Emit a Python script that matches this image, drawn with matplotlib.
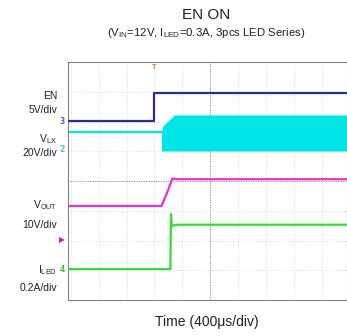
import matplotlib
matplotlib.use("Agg")
import matplotlib.pyplot as plt

plt.rcParams["font.family"] = ["Liberation Sans", "DejaVu Sans"]
plt.rcParams["mathtext.fontset"] = "custom"
plt.rcParams["mathtext.rm"] = "Liberation Sans"
plt.rcParams["mathtext.it"] = "Liberation Sans"

# time axis in divisions (400us/div), levels in divisions
en_t = [-5.1, -2.0, -2.0, 4.9]
en_v = [2.02, 2.02, 2.96, 2.96]

lx_pre_t = [-5.1, -1.75]
lx_pre_v = [1.65, 1.65]
lx_t = [-1.75, -1.70, -1.29, 4.9]
lx_top = [1.65, 1.85, 2.22, 2.22]
lx_bot = [1.01, 1.01, 1.01, 1.01]

vout_t = [-5.1, -1.75, -1.55, -1.36, -1.2, 4.9]
vout_v = [-0.84, -0.84, -0.40, 0.08, 0.06, 0.06]

iled_t = [-5.1, -1.43, -1.41, -1.38, -1.33, -1.2, 4.9]
iled_v = [-2.96, -2.96, -1.11, -1.52, -1.50, -1.47, -1.47]

W, H = 347, 336
fig = plt.figure(figsize=(W / 100, H / 100), dpi=100)
ax = fig.add_axes([68 / W, (H - 300) / H, (W - 68) / W, 238 / H])
ax.set_xlim(-5.1, 4.9)
ax.set_ylim(-4, 4)

# scope grid
for x in range(-5, 5):
    ax.axvline(x, color="#cfcfcf", lw=0.6, ls=(0, (1, 2)), zorder=0)
for y in range(-3, 4):
    ax.axhline(y, color="#cfcfcf", lw=0.6, ls=(0, (1, 2)), zorder=0)
ax.axhline(0, color="#888888", lw=0.7, ls=(0, (1, 1.5)), zorder=0)
ax.axvline(0, color="#888888", lw=0.7, ls=(0, (1, 1.5)), zorder=0)
ax.set_xticks([])
ax.set_yticks([])
for s in ax.spines.values():
    s.set_color("#808080")
    s.set_linewidth(0.8)

ax.fill_between(lx_t, lx_bot, lx_top, color="#00e5e5", lw=0, zorder=2)
ax.plot(lx_pre_t, lx_pre_v, color="#00e5e5", lw=1.6, zorder=2)
ax.plot(en_t, en_v, color="#2a2a9a", lw=1.6, zorder=3)
ax.plot(vout_t, vout_v, color="#e030e0", lw=1.6, zorder=3)
ax.plot(iled_t, iled_v, color="#33dd33", lw=1.6, zorder=3)

# trigger marker
ax.text(-2.0, 3.8, "T", color="#e08020", fontsize=5.5, ha="center", va="center",
        fontweight="bold", zorder=4)


def fx(px):
    return px / W


def fy(py):
    return 1 - py / H


fig.text(fx(206), fy(15), "EN ON", ha="center", va="center", fontsize=11, color="#222222")
fig.text(fx(206), fy(33), r"(V$_{IN}$=12V, I$_{LED}$=0.3A, 3pcs LED Series)",
         ha="center", va="center", fontsize=8.2, color="#222222")
fig.text(fx(207), fy(322), "Time (400\u03bcs/div)", ha="center", va="center",
         fontsize=10, color="#222222")

labels = [
    ("EN", 96), ("5V/div", 110),
    (r"V$_{LX}$", 139), ("20V/div", 153),
    (r"V$_{OUT}$", 205), ("10V/div", 225),
    (r"I$_{LED}$", 270), ("0.2A/div", 288),
]
for txt, py in labels:
    fig.text(fx(57), fy(py), txt, ha="right", va="center", fontsize=7.5, color="#222222")

markers = [("3", 122, "#6060c0"), ("2", 150, "#40c8c8"), ("", 240, "#c020c0"), ("4", 269, "#40c040")]
for num, py, c in markers:
    fig.text(fx(62), fy(py), num if num else "\u25b6", ha="center", va="center",
             fontsize=5.5, color=c, fontweight="bold", family=["DejaVu Sans"])

fig.savefig("out.png", dpi=100)
